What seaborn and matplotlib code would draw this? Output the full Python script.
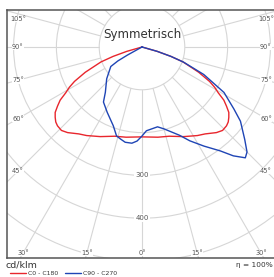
import numpy as np
import pandas as pd
import matplotlib
matplotlib.use("Agg")
import matplotlib.pyplot as plt
import seaborn as sns
from matplotlib.lines import Line2D
from matplotlib.patches import Circle

# ---- data (gamma in degrees from nadir, intensity in cd/klm) ----
c0_gamma = [0, 10, 17, 25, 32, 36, 41, 44, 47, 49, 51, 53, 55, 57, 59, 61, 63, 66, 70, 72, 74, 76]
c0_cd = [210, 214, 218, 231, 244, 251, 265, 271, 270, 267, 261, 254, 241, 228, 208, 194, 177, 145, 102, 71, 37, 0]

c90_gamma = [0, 3, 11, 15, 23, 27, 32, 37, 40, 43, 45, 48, 53, 56, 61, 66, 70, 72, 74, 76]
c90_cd = [208, 196, 190, 198, 224, 246, 273, 304, 332, 354, 347, 323, 288, 259, 219, 158, 103, 71, 37, 0]

c270_gamma = [0, 3, 6, 10, 13, 16, 20, 28, 35, 39, 48, 58, 60, 61, 62]
c270_cd = [208, 220, 226, 226, 221, 216, 196, 173, 157, 136, 111, 86, 65, 39, 0]

ring_values = [100, 200, 300, 400, 500]
ring_labels = [300, 400]
angle_labels = [0, 15, 30, 45, 60, 75, 90, 105]

title = "Symmetrisch"
unit_label = "cd/klm"
eff_label = "η = 100%"
legend_names = ["C0 - C180", "C90 - C270"]
red = "#e8262d"
blue = "#1f45b5"


def to_xy(signed_gamma, cd):
    g = np.radians(np.asarray(signed_gamma, float))
    r = np.asarray(cd, float)
    return r * np.sin(g), -r * np.cos(g)


# red: C180 on left, C0 on right (same values)
red_g = [-g for g in c0_gamma[::-1]] + c0_gamma[1:]
red_r = c0_cd[::-1] + c0_cd[1:]
blue_g = [-g for g in c270_gamma[::-1]] + c90_gamma[1:]
blue_r = c270_cd[::-1] + c90_cd[1:]

rx, ry = to_xy(red_g, red_r)
bx, by = to_xy(blue_g, blue_r)
df_red = pd.DataFrame({"x": rx, "y": ry})
df_blue = pd.DataFrame({"x": bx, "y": by})

sns.set_style("white")
plt.rcParams["font.family"] = ["DejaVu Sans"]

W, H = 274, 277
fig = plt.figure(figsize=(W / 100, H / 100), dpi=100)
L, R, T, B = 7, 274, 10, 258
ax = fig.add_axes([L / W, 1 - B / H, (R - L) / W, (B - T) / H])
cx, cy, s = 142, 47, 0.428
ax.set_xlim((L - cx) / s, (R - cx) / s)
ax.set_ylim(-(B - cy) / s, (cy - T) / s)

grid_c = "#d6d6d6"
for rv in ring_values:
    ax.add_patch(Circle((0, 0), rv, fill=False, ec=grid_c, lw=0.8, zorder=1))
for a in range(-180, 181, 15):
    ar = np.radians(a)
    ax.plot([100 * np.sin(ar), 800 * np.sin(ar)], [-100 * np.cos(ar), -800 * np.cos(ar)],
            color=grid_c, lw=0.8, zorder=1)

for rv in ring_labels:
    ax.text(0, -rv, str(rv), ha="center", va="center", fontsize=5, color="#555555",
            bbox=dict(fc="white", ec="none", pad=0.6), zorder=2)

# angle labels along an inset frame
xin, ybot, ytop = (cx - 18) / s, (253 - cy) / s, (cy - 19) / s
for a in angle_labels:
    for sign in ([1] if a == 0 else [-1, 1]):
        ar = np.radians(a)
        dx, dy = np.sin(ar), -np.cos(ar)
        ts = []
        if dx > 1e-9:
            ts.append(xin / dx)
        if dy < -1e-9:
            ts.append(ybot / -dy)
        t = min(ts)
        px, py = sign * t * dx, min(t * dy, ytop)
        ax.text(px, py, f"{a}°", ha="center", va="center", fontsize=4.8, color="#555555",
                bbox=dict(fc="white", ec="none", pad=0.3), zorder=2)

sns.lineplot(data=df_red, x="x", y="y", sort=False, estimator=None, color=red, lw=1.0, ax=ax, zorder=4)
sns.lineplot(data=df_blue, x="x", y="y", sort=False, estimator=None, color=blue, lw=1.0, ax=ax, zorder=5)

ax.text(0, (cy - 34.5) / s, title, ha="center", va="center", fontsize=8.6, color="#333333", zorder=6)

ax.set_xlabel("")
ax.set_ylabel("")
ax.set_xticks([])
ax.set_yticks([])
for side in ["top", "left", "bottom"]:
    ax.spines[side].set_color("#555555")
    ax.spines[side].set_linewidth(1.1)
ax.spines["right"].set_visible(False)

fig.text(5 / W, 1 - 265 / H, unit_label, ha="left", va="center", fontsize=6.8, color="#333333")
fig.text(273 / W, 1 - 265 / H, eff_label, ha="right", va="center", fontsize=5.3, color="#333333")
ly = 1 - 273 / H
fig.add_artist(Line2D([10 / W, 26 / W], [ly, ly], color=red, lw=1.0))
fig.text(28 / W, 1 - 273.3 / H, legend_names[0], ha="left", va="center", fontsize=4.4, color="#333333")
fig.add_artist(Line2D([65 / W, 81 / W], [ly, ly], color=blue, lw=1.0))
fig.text(83 / W, 1 - 273.3 / H, legend_names[1], ha="left", va="center", fontsize=4.4, color="#333333")

fig.savefig("out.png", dpi=100)
